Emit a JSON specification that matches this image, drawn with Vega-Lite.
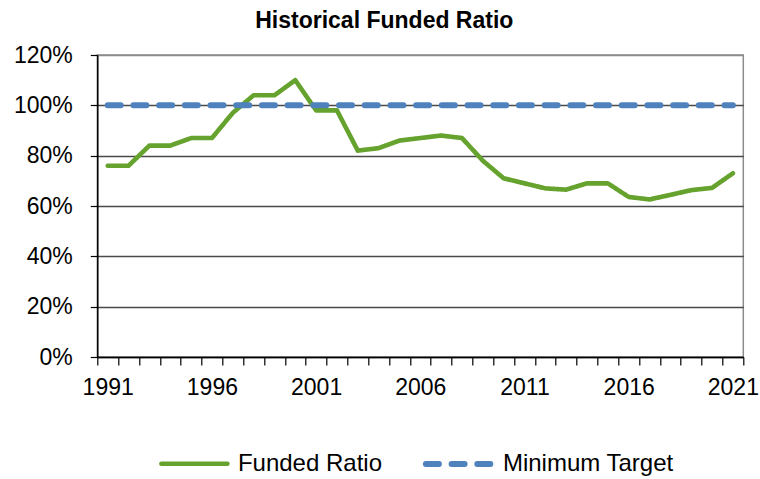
{
  "$schema": "https://vega.github.io/schema/vega-lite/v6.json",
  "width": 646,
  "height": 302,
  "autosize": {"type": "none"},
  "padding": {"left": 97.3, "top": 55, "right": 16.7, "bottom": 122},
  "background": "white",
  "config": {
    "font": "Liberation Sans",
    "view": {"stroke": "#8c8c8c", "strokeWidth": 1.5}
  },
  "title": {
    "text": "Historical Funded Ratio",
    "font": "Liberation Sans",
    "fontSize": 23,
    "fontWeight": "bold",
    "color": "#000000",
    "anchor": "middle",
    "frame": "group",
    "dx": -36,
    "dy": 36,
    "offset": 24,
    "baseline": "bottom"
  },
  "data": {
    "values": [
      {"year": 1991, "series": "Funded Ratio", "value": 76},
      {"year": 1992, "series": "Funded Ratio", "value": 76},
      {"year": 1993, "series": "Funded Ratio", "value": 84},
      {"year": 1994, "series": "Funded Ratio", "value": 84},
      {"year": 1995, "series": "Funded Ratio", "value": 87},
      {"year": 1996, "series": "Funded Ratio", "value": 87},
      {"year": 1997, "series": "Funded Ratio", "value": 97},
      {"year": 1998, "series": "Funded Ratio", "value": 104},
      {"year": 1999, "series": "Funded Ratio", "value": 104},
      {"year": 2000, "series": "Funded Ratio", "value": 110},
      {"year": 2001, "series": "Funded Ratio", "value": 98},
      {"year": 2002, "series": "Funded Ratio", "value": 98},
      {"year": 2003, "series": "Funded Ratio", "value": 82},
      {"year": 2004, "series": "Funded Ratio", "value": 83},
      {"year": 2005, "series": "Funded Ratio", "value": 86},
      {"year": 2006, "series": "Funded Ratio", "value": 87},
      {"year": 2007, "series": "Funded Ratio", "value": 88},
      {"year": 2008, "series": "Funded Ratio", "value": 87},
      {"year": 2009, "series": "Funded Ratio", "value": 78},
      {"year": 2010, "series": "Funded Ratio", "value": 71},
      {"year": 2011, "series": "Funded Ratio", "value": 69},
      {"year": 2012, "series": "Funded Ratio", "value": 67},
      {"year": 2013, "series": "Funded Ratio", "value": 66.5},
      {"year": 2014, "series": "Funded Ratio", "value": 69},
      {"year": 2015, "series": "Funded Ratio", "value": 69},
      {"year": 2016, "series": "Funded Ratio", "value": 63.6},
      {"year": 2017, "series": "Funded Ratio", "value": 62.6},
      {"year": 2018, "series": "Funded Ratio", "value": 64.4},
      {"year": 2019, "series": "Funded Ratio", "value": 66.3},
      {"year": 2020, "series": "Funded Ratio", "value": 67.2},
      {"year": 2021, "series": "Funded Ratio", "value": 73},
      {"year": 1991, "series": "Minimum Target", "value": 100},
      {"year": 1992, "series": "Minimum Target", "value": 100},
      {"year": 1993, "series": "Minimum Target", "value": 100},
      {"year": 1994, "series": "Minimum Target", "value": 100},
      {"year": 1995, "series": "Minimum Target", "value": 100},
      {"year": 1996, "series": "Minimum Target", "value": 100},
      {"year": 1997, "series": "Minimum Target", "value": 100},
      {"year": 1998, "series": "Minimum Target", "value": 100},
      {"year": 1999, "series": "Minimum Target", "value": 100},
      {"year": 2000, "series": "Minimum Target", "value": 100},
      {"year": 2001, "series": "Minimum Target", "value": 100},
      {"year": 2002, "series": "Minimum Target", "value": 100},
      {"year": 2003, "series": "Minimum Target", "value": 100},
      {"year": 2004, "series": "Minimum Target", "value": 100},
      {"year": 2005, "series": "Minimum Target", "value": 100},
      {"year": 2006, "series": "Minimum Target", "value": 100},
      {"year": 2007, "series": "Minimum Target", "value": 100},
      {"year": 2008, "series": "Minimum Target", "value": 100},
      {"year": 2009, "series": "Minimum Target", "value": 100},
      {"year": 2010, "series": "Minimum Target", "value": 100},
      {"year": 2011, "series": "Minimum Target", "value": 100},
      {"year": 2012, "series": "Minimum Target", "value": 100},
      {"year": 2013, "series": "Minimum Target", "value": 100},
      {"year": 2014, "series": "Minimum Target", "value": 100},
      {"year": 2015, "series": "Minimum Target", "value": 100},
      {"year": 2016, "series": "Minimum Target", "value": 100},
      {"year": 2017, "series": "Minimum Target", "value": 100},
      {"year": 2018, "series": "Minimum Target", "value": 100},
      {"year": 2019, "series": "Minimum Target", "value": 100},
      {"year": 2020, "series": "Minimum Target", "value": 100},
      {"year": 2021, "series": "Minimum Target", "value": 100}
    ]
  },
  "mark": {"type": "line", "strokeCap": "round", "strokeJoin": "round"},
  "encoding": {
    "x": {
      "field": "year",
      "type": "quantitative",
      "scale": {"domain": [1990.5, 2021.5], "nice": false, "zero": false},
      "axis": {
        "title": null,
        "grid": false,
        "values": [1990.5, 1991.5, 1992.5, 1993.5, 1994.5, 1995.5, 1996.5, 1997.5, 1998.5, 1999.5, 2000.5, 2001.5, 2002.5, 2003.5, 2004.5, 2005.5, 2006.5, 2007.5, 2008.5, 2009.5, 2010.5, 2011.5, 2012.5, 2013.5, 2014.5, 2015.5, 2016.5, 2017.5, 2018.5, 2019.5, 2020.5, 2021.5],
        "labelExpr": "(datum.value + 0.5 - 1991) % 5 == 0 ? format(datum.value + 0.5, 'd') : ''",
        "labelOffset": 10.4,
        "labelOverlap": false,
        "labelFlush": false,
        "labelBound": false,
        "labelFontSize": 23,
        "labelColor": "#000000",
        "labelPadding": 11,
        "tickSize": 8,
        "tickColor": "#000000",
        "tickWidth": 1.2,
        "domainColor": "#000000",
        "domainWidth": 1.5
      }
    },
    "y": {
      "field": "value",
      "type": "quantitative",
      "scale": {"domain": [0, 120], "nice": false},
      "axis": {
        "title": null,
        "values": [0, 20, 40, 60, 80, 100, 120],
        "labelExpr": "datum.value + '%'",
        "labelFontSize": 23,
        "labelColor": "#000000",
        "labelPadding": 18,
        "tickSize": 7,
        "tickColor": "#000000",
        "tickWidth": 1.2,
        "domainColor": "#000000",
        "domainWidth": 1.5,
        "gridColor": {"condition": {"test": "datum.value === 120", "value": "#8c8c8c"}, "value": "#4a4a4a"},
        "gridWidth": 1.6
      }
    },
    "strokeWidth": {
      "field": "series",
      "type": "nominal",
      "scale": {"domain": ["Funded Ratio", "Minimum Target"], "range": [4.6, 6]},
      "legend": null
    },
    "color": {
      "field": "series",
      "type": "nominal",
      "scale": {"domain": ["Funded Ratio", "Minimum Target"], "range": ["#66A22E", "#4F81BD"]},
      "legend": {
        "title": null,
        "orient": "none",
        "legendX": 61.6,
        "legendY": 373,
        "direction": "horizontal",
        "symbolType": "stroke",
        "symbolSize": 4356,
        "symbolStrokeWidth": 4.6,
        "labelFontSize": 24,
        "labelLimit": 400,
        "labelColor": "#000000",
        "labelOffset": 8,
        "columnPadding": 31,
        "padding": 0,
        "encode": {"symbols": {"update": {"strokeCap": {"value": "round"}, "strokeWidth": {"signal": "datum.value === 'Minimum Target' ? 6 : 4.6"}}}}
      }
    },
    "strokeDash": {
      "field": "series",
      "type": "nominal",
      "scale": {"domain": ["Funded Ratio", "Minimum Target"], "range": [[1, 0], [13, 12.7]]},
      "legend": {
        "title": null,
        "orient": "none",
        "legendX": 61.6,
        "legendY": 373,
        "direction": "horizontal",
        "symbolType": "stroke",
        "symbolSize": 4356,
        "symbolStrokeWidth": 4.6,
        "labelFontSize": 24,
        "labelLimit": 400,
        "labelColor": "#000000",
        "labelOffset": 8,
        "columnPadding": 31,
        "padding": 0,
        "encode": {"symbols": {"update": {"strokeCap": {"value": "round"}, "strokeWidth": {"signal": "datum.value === 'Minimum Target' ? 6 : 4.6"}}}}
      }
    }
  }
}
